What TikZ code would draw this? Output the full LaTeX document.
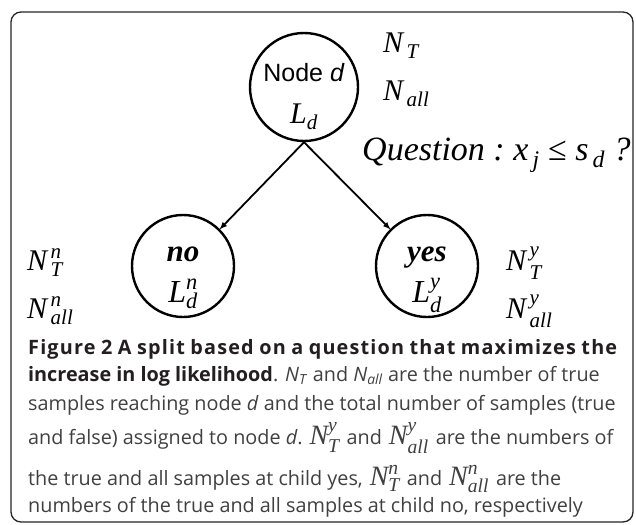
\documentclass[tikz,border=0pt]{standalone}
\usepackage{fontspec}
\usepackage{amsmath}
\usetikzlibrary{arrows.meta}
\setmainfont{Liberation Serif}
\newfontfamily\tms{Liberation Serif}
\newfontfamily\arl{Liberation Sans}
\newfontfamily\capf{Open Sans}
\newcommand\ti[1]{\text{\tms\itshape #1}}
\newcommand\tb[1]{\text{\tms\bfseries\itshape #1}}
\newcommand\cm[1]{\hspace{7pt}{\fontsize{28}{28}\selectfont$#1$}\hspace{7pt}}
\definecolor{captxt}{HTML}{404040}
\definecolor{capbold}{HTML}{231F20}
\begin{document}
\begin{tikzpicture}[x=1pt,y=-1pt,
  circ/.style={circle,draw=black,line width=2.4pt,inner sep=0pt,minimum size=#1},
  arr/.style={-{Latex[length=8pt,width=6pt]},line width=1.8pt,shorten >=-1pt},
  lab/.style={anchor=base west,inner sep=0pt,font=\fontsize{30}{36}\selectfont},
  ctr/.style={anchor=base,inner sep=0pt},
  capline/.style={anchor=base west,inner sep=0pt,text=captxt,font=\capf\fontsize{19.8}{24}\selectfont}]
\useasboundingbox (0,0) rectangle (636,524);
\fill[white] (0,0) rectangle (636,524);
\draw[line width=1.3pt,black!85,rounded corners=10pt] (11,12) rectangle (633,522);

% tree
\node[circ=108pt] (top) at (304,87) {};
\node[ctr,font=\arl\fontsize{25}{30}\selectfont] (topname) at (304,82) {Node \textit{d}};
\node[ctr,font=\fontsize{30}{36}\selectfont] (topL) at (304,123) {$\ti{L}_{\ti{d}}$};

\node[circ=102pt] (no) at (183,266) {};
\node[circ=102pt] (yes) at (427,266) {};
\node[ctr,font=\fontsize{31}{36}\selectfont] (notxt) at (183,261) {$\tb{no}$};
\node[ctr,font=\fontsize{31}{36}\selectfont] (yestxt) at (427,261) {$\tb{yes}$};
\node[ctr,font=\fontsize{32}{40}\selectfont] (noL) at (183,302) {$\ti{L}_{\ti{d}}^{\ti{n}}$};
\node[ctr,font=\fontsize{32}{40}\selectfont] (yesL) at (427,302) {$\ti{L}_{\ti{d}}^{\ti{y}}$};

\draw[arr] (top.south) -- (no.north east);
\draw[arr] (top.south) -- (yes.north west);

\node[lab] (NT) at (383,53) {$\ti{N}_{\,\ti{T}}$};
\node[lab] (Nall) at (383,100) {$\ti{N}_{\,\ti{all}}$};
\node[lab,font=\fontsize{34}{40}\selectfont] (quest) at (362,160) {$\ti{Question}\ \ti{:}\ \ti{x}_{\,\ti{j}}\ \text{\tms ≤}\ \ti{s}_{\,\ti{d}}\ \ti{?}$};

\node[lab] (NTn) at (27,270) {$\ti{N}_{\,\ti{T}}^{\,\ti{n}}$};
\node[lab] (Nalln) at (27,318) {$\ti{N}_{\,\ti{all}}^{\,\ti{n}}$};
\node[lab] (NTy) at (506,270) {$\ti{N}_{\,\ti{T}}^{\,\ti{y}}$};
\node[lab] (Nally) at (506,318) {$\ti{N}_{\,\ti{all}}^{\,\ti{y}}$};

% caption
\node[capline,text=capbold] (c1) at (28,354) {\makebox[589pt][s]{\addfontfeature{LetterSpace=6}\bfseries Figure 2 A split based on a question that maximizes the}};
\node[capline] (c2) at (28,381) {{\color{capbold}\bfseries increase in log likelihood}. \textit{N}\textsubscript{\textit{T}} and \textit{N}\textsubscript{\textit{all}} are the number of true};
\node[capline] (c3) at (28,410) {samples reaching node \textit{d} and the total number of samples (true};
\node[capline] (c4) at (28,444) {and false) assigned to node \textit{d}.\cm{\ti{N}_{\ti{T}}^{\ti{y}}}and\cm{\ti{N}_{\ti{all}}^{\ti{y}}}are the numbers of};
\node[capline] (c5) at (28,485) {the true and all samples at child yes,\cm{\ti{N}_{\ti{T}}^{\ti{n}}}and\cm{\ti{N}_{\ti{all}}^{\ti{n}}}are the};
\node[capline] (c6) at (28,512) {numbers of the true and all samples at child no, respectively};
\end{tikzpicture}
\end{document}
